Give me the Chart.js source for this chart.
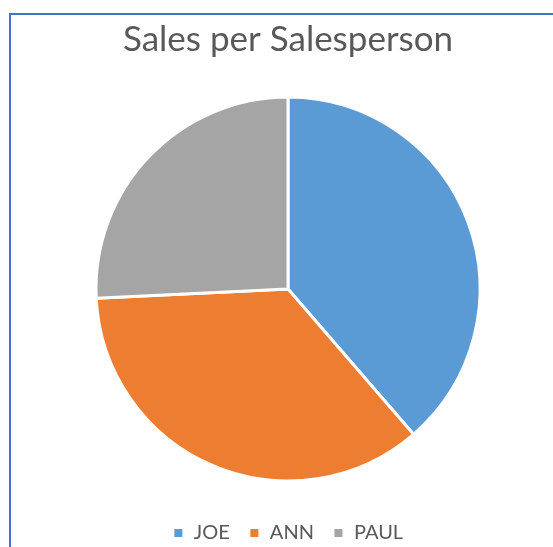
<!DOCTYPE html>
<html>
<head>
<meta charset="utf-8">
<title>Sales per Salesperson</title>
<script src="https://cdn.jsdelivr.net/npm/chart.js@4"></script>
<style>
  html, body { margin: 0; padding: 0; background: #fff; overflow: hidden; }
  #frame {
    position: absolute; left: 9px; top: 13px; width: 600px; height: 600px;
    border-left: 2px solid #4472C4; border-top: 2px solid #4472C4;
  }
  #wrap { position: absolute; left: 0; top: 0; width: 553px; height: 553px; }
</style>
</head>
<body>
<div id="frame"></div>
<div id="wrap"><canvas id="salesPie"></canvas></div>
<script>
  const salespeople = ['JOE', 'ANN', 'PAUL'];
  const sales = [150, 138, 100];
  const sliceColors = ['#5B9BD5', '#ED7D31', '#A5A5A5'];

  const ctx = document.getElementById('salesPie').getContext('2d');
  const salesPie = new Chart(ctx, {
    type: 'pie',
    data: {
      labels: salespeople,
      datasets: [{
        label: 'Sales',
        data: sales,
        backgroundColor: sliceColors,
        borderColor: '#ffffff',
        borderWidth: 3,
        radius: 192
      }]
    },
    options: {
      responsive: true,
      maintainAspectRatio: false,
      animation: false,
      events: [],
      layout: {
        padding: { left: 23, right: 0, top: 0, bottom: 0 }
      },
      plugins: {
        title: {
          display: true,
          text: 'Sales per Salesperson',
          color: '#595959',
          font: { family: 'Lato', size: 35, weight: 'normal', lineHeight: 1.2 },
          padding: { top: 19, bottom: 13 }
        },
        legend: {
          position: 'bottom',
          labels: {
            color: '#595959',
            font: { family: 'Lato', size: 20 },
            boxWidth: 11,   // white 3px stroke leaves ~8px of colour
            boxHeight: 11,
            padding: 19
          }
        },
        tooltip: { enabled: false }
      }
    }
  });
</script>
</body>
</html>
